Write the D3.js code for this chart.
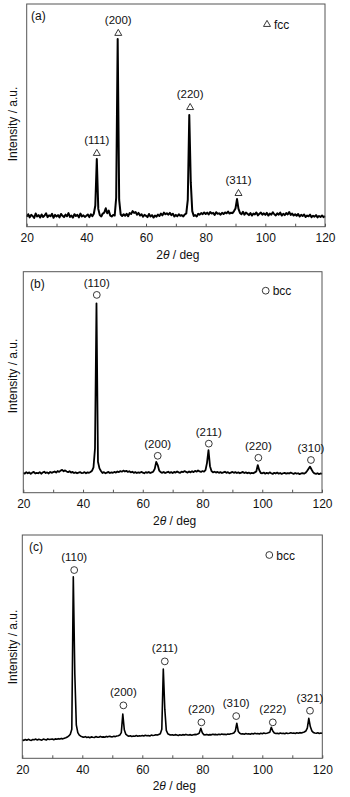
<!DOCTYPE html>
<html><head><meta charset="utf-8">
<script src="https://cdn.jsdelivr.net/npm/d3@7"></script>
<style>html,body{margin:0;padding:0;background:#fff;}svg{display:block;}</style>
</head><body>
<div id="chart"></div>
<script>
// 2θ sampling grid (deg), step 0.5 from 20 to 120
const twoThetaStart = 20, twoThetaStep = 0.5;
const xTicks = [20, 30, 40, 50, 60, 70, 80, 90, 100, 110, 120];
const xTickLabels = ["20", "", "40", "", "60", "", "80", "", "100", "", "120"];

// (a) fcc pattern intensity (a.u., 0 = axis, 100 = top of frame)
const intensityA = [
 4.5,5.6,4.2,5.3,4.8,3.9,5.9,4.6,5.2,4.1,5.5,4.4,5.0,6.0,4.3,5.1,4.7,5.8,4.0,5.3,
 4.6,5.2,4.2,5.7,4.9,4.3,5.4,4.7,6.1,4.4,5.0,4.1,5.6,4.8,5.3,4.2,5.9,4.6,5.1,4.4,
 4.9,5.5,4.3,5.6,4.7,5.8,9.5,30.4,8.0,5.2,4.6,5.9,6.3,8.3,6.0,7.2,5.0,4.6,5.3,5.0,
 13.0,84.3,12.0,5.5,4.8,5.6,4.9,5.8,4.7,6.1,5.7,7.0,6.2,6.6,5.4,6.2,5.0,5.6,4.5,5.3,
 4.9,4.3,5.7,4.6,5.2,4.1,5.0,4.5,5.4,4.8,5.9,5.1,6.3,5.6,6.0,5.4,6.2,5.2,5.8,4.6,
 5.3,4.7,5.6,4.9,5.2,4.6,5.5,6.0,12.0,50.2,20.0,7.0,4.8,5.2,4.6,5.8,5.4,6.1,5.6,6.4,
 5.7,6.3,5.5,6.6,5.9,6.2,5.3,6.5,5.8,6.0,5.4,6.2,5.7,6.4,6.0,6.8,5.9,6.3,6.1,7.0,
 8.2,12.4,8.0,6.2,5.6,6.7,5.4,6.3,5.8,5.2,6.1,5.0,5.9,5.5,6.4,5.1,5.8,6.3,5.4,6.0,
 5.3,6.2,5.0,5.9,5.4,6.5,5.6,5.1,6.0,5.4,6.3,5.0,5.8,5.2,6.1,5.5,6.6,5.3,5.9,5.0,
 5.6,4.9,5.7,4.6,5.3,4.8,5.5,4.4,5.0,4.7,5.4,4.3,4.9,4.5,5.2,4.2,4.8,4.4,5.0,4.3,
 4.7
];
// (b) bcc pattern
const intensityB = [
 9.0,8.6,9.3,8.8,9.2,8.5,9.1,9.4,8.7,9.0,8.8,9.3,8.6,9.1,9.5,8.9,9.2,8.7,9.4,9.0,
 9.3,9.6,9.1,9.8,9.4,10.0,10.3,9.7,10.1,9.6,9.3,9.7,9.1,9.4,8.9,9.2,8.8,9.1,9.3,8.9,
 9.0,9.3,8.8,9.2,9.0,9.4,9.9,11.5,20.0,85.7,14.0,11.0,9.8,8.9,9.3,8.8,9.1,9.4,8.9,9.2,
 9.0,9.4,9.1,9.6,9.3,9.8,9.5,10.0,9.6,9.9,9.4,9.7,9.2,9.5,9.0,9.3,8.9,9.2,9.0,9.4,
 9.1,8.8,9.3,9.0,9.4,8.9,9.2,9.5,10.8,13.9,12.5,10.0,9.3,9.0,9.4,8.9,9.2,9.5,9.0,9.3,
 8.9,9.4,9.1,9.6,9.2,9.0,9.5,9.3,9.8,9.4,9.1,9.6,9.2,9.7,9.3,9.9,9.5,10.1,9.6,9.4,
 9.8,9.5,10.2,13.5,19.3,12.0,9.8,9.2,9.5,9.1,9.4,9.0,9.3,8.9,9.2,9.5,9.0,9.3,8.8,9.1,
 9.4,9.0,9.3,8.9,9.2,8.8,9.1,9.4,8.9,9.2,8.8,9.1,8.7,9.0,8.8,9.2,9.6,12.5,10.2,8.9,
 8.8,9.1,8.6,9.0,8.7,9.2,8.8,8.5,9.0,8.7,9.1,8.6,8.9,8.5,8.8,9.0,8.6,8.9,8.7,9.1,
 8.8,8.5,8.9,8.6,8.8,8.4,8.7,8.9,8.6,9.0,9.8,10.8,11.8,10.5,9.3,8.7,8.5,8.8,8.4,8.7,
 8.5
];
// (c) bcc pattern
const intensityC = [
 8.3,8.0,8.4,8.1,8.5,8.2,8.0,8.4,8.3,8.6,8.2,8.5,8.3,8.1,8.6,8.4,8.2,8.7,8.4,8.5,
 8.6,8.3,8.7,8.5,8.8,8.6,8.9,8.7,9.0,9.2,9.5,10.0,10.8,13.0,81.3,38.0,15.0,11.5,10.4,9.9,
 9.6,9.4,9.7,9.3,9.5,9.2,9.6,9.4,9.3,9.7,9.5,9.4,9.8,9.5,9.6,9.4,9.8,9.6,9.9,9.7,
 9.6,9.9,9.7,10.0,10.1,10.4,11.5,19.8,12.8,10.8,10.2,9.9,10.1,9.8,10.0,9.9,10.2,9.9,10.1,10.0,
 10.2,10.0,10.3,10.1,10.2,10.0,10.4,10.2,10.3,10.5,10.4,10.7,11.0,13.0,40.0,22.0,12.5,11.0,10.6,10.4,
 10.5,10.3,10.6,10.4,10.2,10.5,10.3,10.6,10.4,10.7,10.5,10.4,10.6,10.3,10.5,10.7,10.6,10.9,11.3,13.4,
 11.4,10.6,10.5,10.7,10.4,10.6,10.5,10.8,10.6,10.7,10.5,10.8,10.6,10.9,10.7,10.8,10.6,10.9,10.8,11.0,
 11.1,11.3,12.2,15.7,12.0,11.2,10.9,11.0,10.8,11.1,10.9,11.0,10.8,11.1,10.9,11.2,11.0,11.1,10.9,11.2,
 11.0,11.3,11.1,11.2,11.4,11.7,13.9,12.2,11.3,11.1,11.2,11.0,11.3,11.1,11.2,11.0,11.3,11.1,11.2,11.4,
 11.2,11.3,11.1,11.4,11.2,11.5,11.3,11.6,11.8,12.2,13.5,17.9,14.2,12.3,11.6,11.3,11.2,11.4,11.1,11.3,
 11.2
];

// Peak annotations
const hklA = ["(111)", "(200)", "(220)", "(311)"];
const posA = [43.5, 50.7, 74.8, 91.0];
const markA = [33.1, 87.0, 53.7, 15.1];

const hklB = ["(110)", "(200)", "(211)", "(220)", "(310)"];
const posB = [44.6, 65.0, 82.1, 98.7, 116.3];
const markB = [89.5, 16.7, 22.2, 15.8, 14.8];

const hklC = ["(110)", "(200)", "(211)", "(220)", "(310)", "(222)", "(321)"];
const posC = [37.3, 53.7, 67.5, 79.7, 91.3, 103.5, 115.9];
const markC = [84.3, 23.7, 43.4, 16.1, 18.9, 16.1, 21.3];

const panels = [
  {tag: "(a)", phase: "fcc", marker: "triangle", I: intensityA, hkl: hklA, pos: posA, mark: markA,
   L: 26.7, R: 325, T: 4, B: 226.7, tagX: 31, legX: 267, legY: 24, ylabY: 124, labOff: 13, lw: 2.0},
  {tag: "(b)", phase: "bcc", marker: "circle", I: intensityB, hkl: hklB, pos: posB, mark: markB,
   L: 23.3, R: 322, T: 271.7, B: 492.7, tagX: 30, legX: 265.7, legY: 290.7, ylabY: 376, labOff: 11.5, lw: 1.8},
  {tag: "(c)", phase: "bcc", marker: "circle", I: intensityC, hkl: hklC, pos: posC, mark: markC,
   L: 22.3, R: 322.3, T: 535, B: 758.3, tagX: 29, legX: 269.3, legY: 555, ylabY: 647, labOff: 13, lw: 1.6}
];

const W = 350, H = 797;
const font = "'Liberation Sans', Arial, Helvetica, sans-serif";
const svg = d3.select("#chart").append("svg").attr("width", W).attr("height", H)
  .style("font-family", font);

function drawMarker(g, type, cx, cy) {
  if (type === "circle") {
    g.append("circle").attr("cx", cx).attr("cy", cy).attr("r", 3.4)
      .attr("fill", "none").attr("stroke", "#222").attr("stroke-width", 0.9);
  } else {
    const s = 7, h = s * 0.866;
    g.append("path")
      .attr("d", `M${cx},${cy - h * 0.6}L${cx + s / 2},${cy + h * 0.4}L${cx - s / 2},${cy + h * 0.4}Z`)
      .attr("fill", "none").attr("stroke", "#222").attr("stroke-width", 0.9);
  }
}

panels.forEach(p => {
  const x = d3.scaleLinear().domain([20, 120]).range([p.L, p.R]);
  const y = d3.scaleLinear().domain([0, 100]).range([p.B, p.T]);
  const g = svg.append("g");

  const data = p.I.map((v, i) => [twoThetaStart + i * twoThetaStep, v]);
  g.append("path").datum(data)
    .attr("d", d3.line().x(d => x(d[0])).y(d => y(d[1])))
    .attr("fill", "none").attr("stroke", "#000").attr("stroke-width", p.lw)
    .attr("stroke-linejoin", "round");

  // frame
  g.append("rect").attr("x", p.L).attr("y", p.T).attr("width", p.R - p.L).attr("height", p.B - p.T)
    .attr("fill", "none").attr("stroke", "#555").attr("stroke-width", 1);

  // bottom axis, inward ticks
  const ax = d3.axisBottom(x).tickValues(xTicks).tickSize(-3).tickPadding(7)
    .tickFormat((d, i) => xTickLabels[i]);
  const axg = g.append("g").attr("transform", `translate(0,${p.B})`).call(ax);
  axg.select(".domain").remove();
  axg.selectAll(".tick line").attr("stroke", "#555");
  axg.selectAll(".tick text").attr("font-size", 12).attr("font-family", font).attr("fill", "#111");

  // x label
  const xl = g.append("text").attr("x", (p.L + p.R) / 2 + 2).attr("y", p.B + 32)
    .attr("text-anchor", "middle").attr("font-size", 12).attr("fill", "#111");
  xl.append("tspan").text("2");
  xl.append("tspan").attr("font-style", "italic").text("θ");
  xl.append("tspan").text(" / deg");

  // y label
  g.append("text").attr("transform", `translate(${17},${p.ylabY}) rotate(-90)`)
    .attr("text-anchor", "middle").attr("font-size", 12).attr("fill", "#111")
    .text("Intensity / a.u.");

  // panel tag
  g.append("text").attr("x", p.tagX).attr("y", p.T + 16).attr("font-size", 12).attr("fill", "#111").text(p.tag);

  // legend
  drawMarker(g, p.marker, p.legX, p.legY);
  g.append("text").attr("x", p.legX + 7).attr("y", p.legY + 4.5).attr("font-size", 12)
    .attr("fill", "#111").text(p.phase);

  // peak markers + labels
  p.hkl.forEach((lab, i) => {
    const cx = x(p.pos[i]), cy = y(p.mark[i]);
    drawMarker(g, p.marker, cx, cy);
    g.append("text").attr("x", cx).attr("y", cy - p.labOff + 4)
      .attr("text-anchor", "middle").attr("font-size", 11.5).attr("fill", "#111").text(lab);
  });
});
</script>
</body></html>
